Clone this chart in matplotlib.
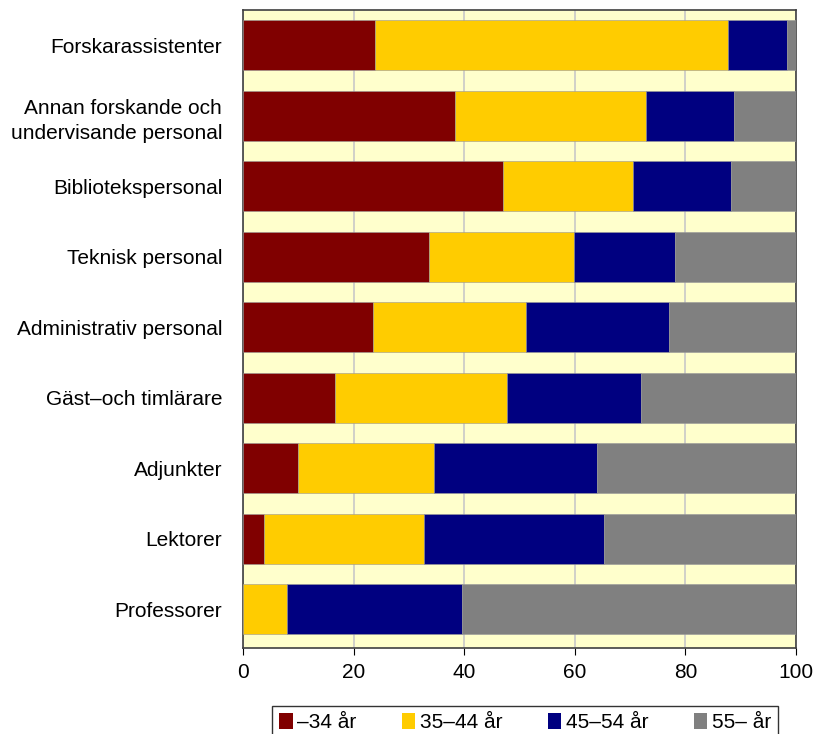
import matplotlib.pyplot as plt
import numpy as np
from matplotlib.patches import Patch

plt.rcParams['font.family'] = ['Liberation Sans', 'DejaVu Sans']

# Kategorier (uppifrån och ned)
kategorier = ['Forskarassistenter', 'Annan forskande och\nundervisande personal',
              'Bibliotekspersonal', 'Teknisk personal', 'Administrativ personal',
              'Gäst–och timlärare', 'Adjunkter', 'Lektorer', 'Professorer']

# Andel (%) per åldersgrupp
ar_34 = [23.9, 38.3, 47.0, 33.6, 23.5, 16.6, 9.9, 3.8, 0.0]
ar_35_44 = [63.8, 34.6, 23.5, 26.3, 27.7, 31.1, 24.6, 28.9, 8.0]
ar_45_54 = [10.7, 15.9, 17.7, 18.2, 25.8, 24.3, 29.5, 32.6, 31.6]
ar_55 = [1.6, 11.2, 11.8, 21.9, 23.0, 28.0, 36.0, 34.7, 60.4]

serier = ['–34 år', '35–44 år', '45–54 år', '55– år']
farger = ['#800000', '#FFCC00', '#000080', '#808080']

fig = plt.figure(figsize=(8.16, 7.34), dpi=100)
ax = fig.add_axes([243 / 816, 1 - 648 / 734, (796 - 243) / 816, (648 - 10) / 734])
ax.set_facecolor('#FFFFCC')

y = np.arange(len(kategorier))
left = np.zeros(len(kategorier))
for data, farg, namn in zip([ar_34, ar_35_44, ar_45_54, ar_55], farger, serier):
    ax.barh(y, data, left=left, height=0.71, color=farg, edgecolor='#999999',
            linewidth=0.4, label=namn, zorder=3)
    left += np.array(data)

ax.set_xlim(0, 100)
ax.set_ylim(len(kategorier) - 0.45, -0.5)
ax.set_yticks(y)
ax.set_yticklabels(kategorier, fontsize=15, linespacing=1.4)
ax.set_xticks([0, 20, 40, 60, 80, 100])
ax.tick_params(axis='x', labelsize=15, length=5, direction='out', pad=6)
ax.tick_params(axis='y', length=0, pad=15)
ax.grid(axis='x', color='#C8C8C8', linewidth=1.2, zorder=0)
for s in ax.spines.values():
    s.set_color('#404040')
    s.set_linewidth(1.2)

handles = [Patch(facecolor=c, edgecolor='none') for c in farger]
leg = fig.legend(handles, serier, loc='upper center', bbox_to_anchor=(525 / 816, 1 - 706 / 734),
                 ncol=4, fontsize=15, frameon=True, fancybox=False, edgecolor='black',
                 handlelength=0.65, handleheight=0.75, handletextpad=0.2, columnspacing=2.2,
                 borderpad=0.35, borderaxespad=0)
leg.get_frame().set_linewidth(1.0)

fig.savefig('out.png', dpi=100)
